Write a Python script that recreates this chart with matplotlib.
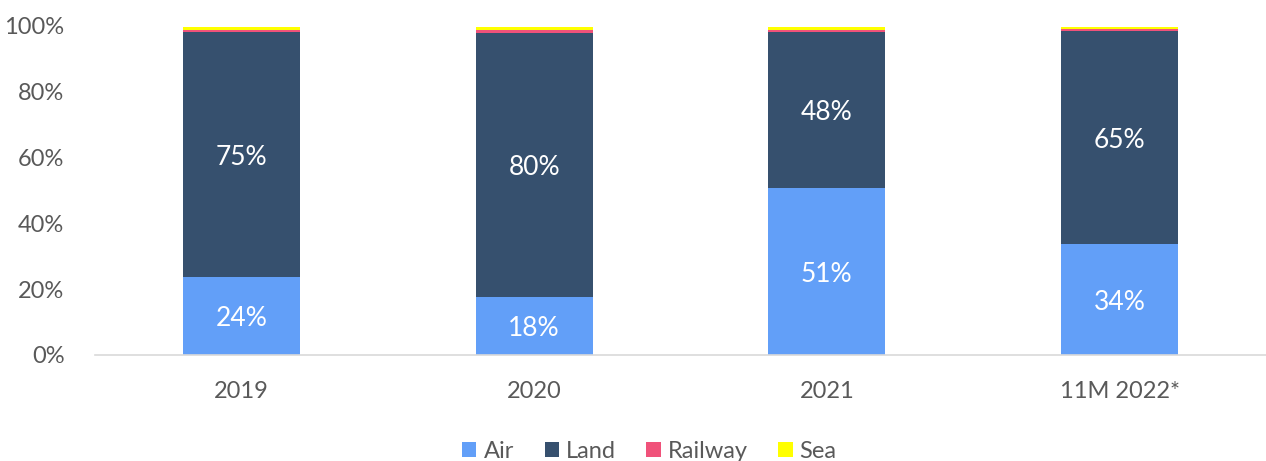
import numpy as np
import matplotlib
matplotlib.use("Agg")
import matplotlib.pyplot as plt

# ---------------------- Data -------------------

years = ["2019", "2020", "2021", "11M 2022*"]
air = [23.6, 17.6, 50.6, 33.6]
land = [74.6, 80.2, 47.6, 64.9]
railway = [0.6, 0.8, 0.6, 0.4]
sea = [0.7, 0.9, 0.7, 0.6]

COLORS = {"Air": "#629ff8", "Land": "#36506e", "Railway": "#f0527a", "Sea": "#ffff00"}
TEXT_GREY = "#595959"

plt.rcParams["font.family"] = ["Lato", "DejaVu Sans"]

# ---------------------- Plot -------------------

fig = plt.figure(figsize=(12.66, 4.61), dpi=100)
ax = fig.add_axes([0.075, 0.23, 0.925, 0.714])

x = np.arange(len(years))
width = 0.4
bottom = np.zeros(len(years))
series = [("Air", air), ("Land", land), ("Railway", railway), ("Sea", sea)]
for name, vals in series:
    vals = np.array(vals)
    ax.bar(x, vals, width, bottom=bottom, color=COLORS[name], label=name)
    if name in ("Air", "Land"):  # only the big segments get a label
        for xi, b, v in zip(x, bottom, vals):
            ax.text(xi, b + v / 2, f"{v:.0f}%", ha="center", va="center_baseline",
                    color="white", fontsize=19)
    bottom += vals

ax.set_xlim(-0.5, len(years) - 0.5)
ax.set_ylim(0, 100)
ax.set_yticks(range(0, 101, 20))
ax.set_yticklabels([f"{t}%" for t in range(0, 101, 20)])
ax.set_xticks(x)
ax.set_xticklabels(years)
ax.tick_params(axis="both", length=0, labelsize=17, colors=TEXT_GREY)
ax.tick_params(axis="x", pad=19)
ax.tick_params(axis="y", pad=22)

for side in ("top", "right", "left"):
    ax.spines[side].set_visible(False)
ax.spines["bottom"].set_color("#d9d9d9")
ax.spines["bottom"].set_linewidth(1.2)

leg = fig.legend(loc="lower center", ncol=4, frameon=False, fontsize=17,
                 handlelength=0.6, handleheight=0.6, handletextpad=0.3,
                 columnspacing=1.3, bbox_to_anchor=(0.513, -0.048))
for t in leg.get_texts():
    t.set_color(TEXT_GREY)

fig.savefig("out.png", dpi=100)
